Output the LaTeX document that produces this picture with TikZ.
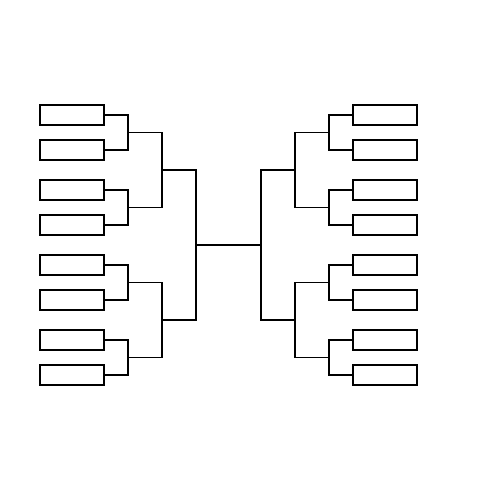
\documentclass[tikz,border=0pt]{standalone}
\begin{document}
\begin{tikzpicture}[x=0.02cm,y=-0.02cm,
    slot/.style={draw,rectangle,minimum width=1.28cm,minimum height=0.4cm,inner sep=0pt,line width=0.7pt},
    wire/.style={line width=0.7pt}]
    \useasboundingbox (0,0) rectangle (500,500);
    % entry slots on both sides
    \foreach \i/\y in {1/115,2/150,3/190,4/225,5/265,6/300,7/340,8/375} {
        \node[slot] (L\i) at (72,\y) {};
        \node[slot] (R\i) at (385,\y) {};
      }
    % junctions of the rounds
    \foreach \k/\y in {1/132.5,2/207.5,3/282.5,4/357.5} {
        \coordinate (LA\k) at (128,\y);
        \coordinate (RA\k) at (329,\y);
      }
    \foreach \k/\y in {1/170,2/320} {
        \coordinate (LB\k) at (162,\y);
        \coordinate (RB\k) at (295,\y);
      }
    \coordinate (LC) at (196,245);
    \coordinate (RC) at (261,245);
    \foreach \k in {1,...,4} {
        \pgfmathtruncatemacro{\a}{2*\k-1};
        \pgfmathtruncatemacro{\b}{2*\k};
        \draw[wire] (L\a.east) -| (LA\k) |- (L\b.east);
        \draw[wire] (R\a.west) -| (RA\k) |- (R\b.west);
      }
    \draw[wire] (LA1) -| (LB1) |- (LA2);
    \draw[wire] (LA3) -| (LB2) |- (LA4);
    \draw[wire] (RA1) -| (RB1) |- (RA2);
    \draw[wire] (RA3) -| (RB2) |- (RA4);
    \draw[wire] (LB1) -| (LC) |- (LB2);
    \draw[wire] (RB1) -| (RC) |- (RB2);
    \draw[wire] (LC) -- (RC);
  \end{tikzpicture}
\end{document}
